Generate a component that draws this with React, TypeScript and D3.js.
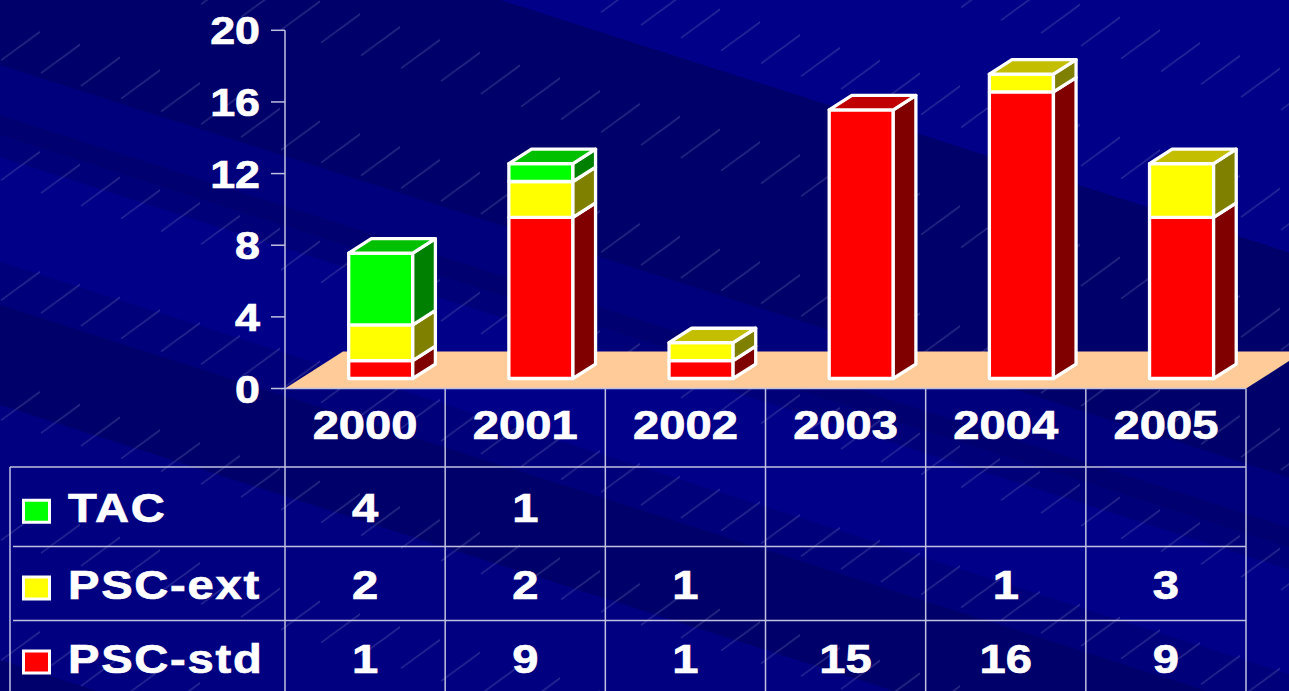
import React from "react";
import * as d3 from "d3";

// ---- data ----
const years = ["2000", "2001", "2002", "2003", "2004", "2005"];
const tac = [4, 1, 0, 0, 0, 0];
const pscExt = [2, 2, 1, 0, 1, 3];
const pscStd = [1, 9, 1, 15, 16, 9];
const yTicks = [0, 4, 8, 12, 16, 20];
const seriesLabels = ["TAC", "PSC-ext", "PSC-std"];

const W = 1289;
const H = 691;
const FONT = "'Liberation Sans', Arial, sans-serif";
const SX = 1.15;

const seriesStyle: Record<string, { front: string; side: string; top: string }> = {
  pscStd: { front: "#FF0000", side: "#800000", top: "#C00000" },
  pscExt: { front: "#FFFF00", side: "#808000", top: "#C4BE00" },
  tac: { front: "#00FF00", side: "#008000", top: "#00C000" },
};

// decorative background bands (intercept at x=0, slope down-right)
const bands: [number, number, string][] = [
  [-700, -160, "#000088"],
  [-160, 65, "#00006A"],
  [65, 115, "#00007C"],
  [115, 135, "#000070"],
  [135, 157, "#000078"],
  [157, 262, "#000088"],
  [262, 305, "#00007A"],
  [305, 405, "#00006A"],
  [405, 660, "#000080"],
  [660, 1200, "#00006C"],
];

function ST(props: { x: number; y: number; size: number; anchor?: string; children: any; ls?: number }) {
  return (
    <text
      transform={`translate(${props.x},${props.y}) scale(${SX},1)`}
      textAnchor={props.anchor || "middle"}
      fontFamily={FONT}
      fontWeight="bold"
      fontSize={props.size}
      letterSpacing={props.ls || 0}
      fill="#FFFFFF"
      stroke="#FFFFFF"
      strokeWidth={0.7}
    >
      {props.children}
    </text>
  );
}

export default function App() {
  const rows = years.map((yr, i) => ({ year: yr, tac: tac[i], pscExt: pscExt[i], pscStd: pscStd[i] }));
  const keys = ["pscStd", "pscExt", "tac"];
  const stacked = d3.stack<any>().keys(keys)(rows);

  const x = d3.scaleBand<string>().domain(years).range([285, 1246]).padding(0);
  const y = d3.scaleLinear().domain([0, 20]).range([388.5, 30.3]);
  const bwBand = x.bandwidth();
  const bw = bwBand * 0.4;
  const D = { x: 58, y: -37 };
  const t0 = 0.27;
  const t1 = 0.66;
  const dd = { x: D.x * (t1 - t0), y: D.y * (t1 - t0) };

  const tableCols = [285, ...years.map((yr) => (x(yr) as number) + bwBand)];
  const rowLines = [467, 546.5, 620.5, 694.5];
  const seriesRows = [tac, pscExt, pscStd];
  const seriesKeysRows = ["tac", "pscExt", "pscStd"];

  const slope = 0.32;
  const lineCol = "#C0C0E0";

  const bars: any[] = [];
  years.forEach((yr, i) => {
    let topKey = "";
    keys.forEach((k) => {
      const s = stacked.find((st) => st.key === k)!;
      if (s[i][1] - s[i][0] > 0) topKey = k;
    });
    keys.forEach((k) => {
      const s = stacked.find((st) => st.key === k)!;
      const [v0, v1] = s[i];
      if (v1 - v0 <= 0) return;
      const st = seriesStyle[k];
      const fx0 = (x(yr) as number) + bwBand / 2 - bw / 2 + D.x * t0;
      const fx1 = fx0 + bw;
      const fyTop = y(v1) + D.y * t0;
      const fyBot = y(v0) + D.y * t0;
      const side = [
        [fx1, fyBot],
        [fx1 + dd.x, fyBot + dd.y],
        [fx1 + dd.x, fyTop + dd.y],
        [fx1, fyTop],
      ];
      const top = [
        [fx0, fyTop],
        [fx1, fyTop],
        [fx1 + dd.x, fyTop + dd.y],
        [fx0 + dd.x, fyTop + dd.y],
      ];
      bars.push(
        <g key={yr + k} stroke="#FFFFFF" strokeWidth={3.3} strokeLinejoin="round">
          <rect x={fx0} y={fyTop} width={bw} height={fyBot - fyTop} fill={st.front} />
          <polygon points={side.map((p) => p.join(",")).join(" ")} fill={st.side} />
          {k === topKey && <polygon points={top.map((p) => p.join(",")).join(" ")} fill={st.top} />}
        </g>
      );
    });
  });

  const floor = [
    [285, 388.5],
    [1246, 388.5],
    [1246 + D.x, 388.5 + D.y],
    [285 + D.x, 388.5 + D.y],
  ];

  return (
    <div style={{ position: "fixed", left: 0, top: 0, width: W, height: H, overflow: "hidden" }}>
      <svg width={W} height={H} style={{ display: "block" }}>
        <defs>
          <pattern
            id="streaks"
            width={40}
            height={120}
            patternUnits="userSpaceOnUse"
            patternTransform={`skewY(${(Math.atan(slope) * 180) / Math.PI})`}
          >
            <line x1={1} x2={41} y1={60} y2={18} stroke="#B0B0D8" strokeWidth={1} />
          </pattern>
        </defs>
        <rect x={0} y={0} width={W} height={H} fill="#00007C" />
        {bands.map(([c0, c1, col], i) => (
          <polygon
            key={i}
            points={`0,${c0} ${W},${c0 + slope * W} ${W},${c1 + slope * W} 0,${c1}`}
            fill={col}
          />
        ))}
        <rect x={0} y={0} width={W} height={H} fill="url(#streaks)" opacity={0.32} />

        {/* floor */}
        <polygon points={floor.map((p) => p.join(",")).join(" ")} fill="#FFCC99" />

        {/* y axis */}
        <line x1={285} x2={285} y1={y(20)} y2={y(0)} stroke={lineCol} strokeWidth={1.5} />
        {yTicks.map((t) => (
          <g key={t}>
            <line x1={271} x2={285} y1={y(t)} y2={y(t)} stroke={lineCol} strokeWidth={1.5} />
            <ST x={260} y={y(t) + 14} size={39} anchor="end">
              {t}
            </ST>
          </g>
        ))}

        {bars}

        {/* data table */}
        <g stroke={lineCol} strokeWidth={1.5}>
          {tableCols.map((cx, i) => (
            <line key={"c" + i} x1={cx} x2={cx} y1={388.5} y2={H} />
          ))}
          <line x1={285} x2={1246} y1={388.5} y2={388.5} />
          <line x1={10} x2={10} y1={rowLines[0]} y2={H} />
          <line x1={10} x2={1246} y1={rowLines[0]} y2={rowLines[0]} />
          <line x1={13} x2={1246} y1={rowLines[1]} y2={rowLines[1]} />
          <line x1={13} x2={1246} y1={rowLines[2]} y2={rowLines[2]} />
        </g>
        {years.map((yr) => (
          <ST key={yr} x={(x(yr) as number) + bwBand / 2} y={439} size={41}>
            {yr}
          </ST>
        ))}
        {seriesRows.map((vals, r) => {
          const cy = (rowLines[r] + rowLines[r + 1]) / 2;
          const base = cy + 15;
          const st = seriesStyle[seriesKeysRows[r]];
          return (
            <g key={"r" + r}>
              <rect x={23.5} y={base - 21.5} width={26} height={22} fill={st.front} stroke="#FFFFFF" strokeWidth={3} />
              <ST x={68} y={base} size={41} anchor="start" ls={1.5}>
                {seriesLabels[r]}
              </ST>
              {vals.map((v, i) =>
                v > 0 ? (
                  <ST key={i} x={(x(years[i]) as number) + bwBand / 2} y={base} size={41}>
                    {v}
                  </ST>
                ) : null
              )}
            </g>
          );
        })}
      </svg>
    </div>
  );
}
